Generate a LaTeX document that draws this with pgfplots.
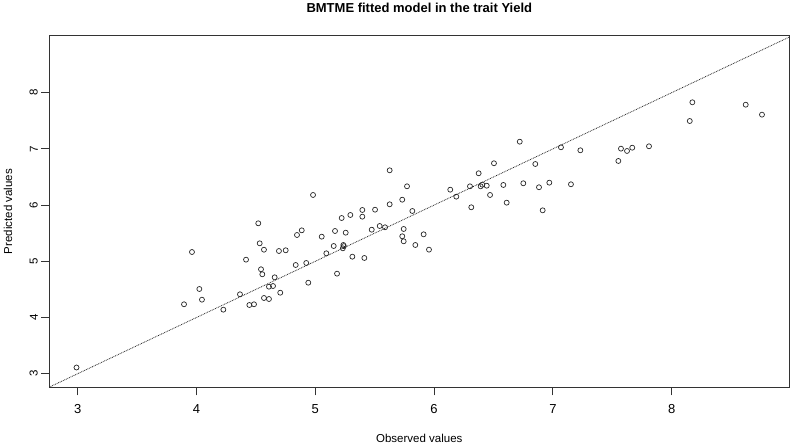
\documentclass[border=0pt]{standalone}
\usepackage{fontspec}
\setmainfont{Liberation Sans}
\usepackage{pgfplots}
\pgfplotsset{compat=1.18}
\begin{document}
\begin{tikzpicture}
\useasboundingbox (0,0) rectangle (792pt,446pt);
\begin{axis}[
  at={(49.3pt,58.7pt)}, anchor=south west,
  scale only axis, width=740pt, height=351.6pt,
  xmin=2.761, xmax=8.99, ymin=2.758, ymax=9.014,
  xtick={3,4,5,6,7,8}, ytick={3,4,5,6,7,8},
  xtick pos=bottom, ytick pos=left,
  tick align=outside, major tick length=8pt,
  axis line style={black!80, line width=0.8pt},
  every tick/.style={black!80, line width=0.8pt},
  /pgf/number format/assume math mode=true,
  xticklabel style={font=\fontsize{13}{13}\selectfont, yshift=-5.5pt},
  yticklabel style={font=\fontsize{11.5}{11.5}\selectfont, rotate=90, anchor=south},
  clip=true,
  title={\textbf{BMTME fitted model in the trait Yield}},
  title style={font=\fontsize{13}{13}\selectfont, at={(axis description cs:0.5,1)}, anchor=center, yshift=21.7pt},
  xlabel={Observed values},
  ylabel={Predicted values},
  xlabel style={font=\fontsize{11.5}{11.5}\selectfont, at={(axis description cs:0.5,-0.1442)}, anchor=center},
  ylabel style={font=\fontsize{11.5}{11.5}\selectfont, at={(axis description cs:-0.0558,0.5)}, anchor=center},
]
\addplot[black!85, dash pattern=on 0.8pt off 0.9pt, line width=0.8pt] coordinates {(2.5,2.5) (9.5,9.5)};
\addplot[only marks, mark=o, mark size=2.5pt, mark options={black!85, line width=0.7pt}] coordinates {
(2.99,3.11) (3.895,4.235) (3.962,5.165) (4.024,4.507) (4.046,4.317)
(4.226,4.139) (4.366,4.413) (4.417,5.029) (4.445,4.222) (4.484,4.235)
(4.52,5.676) (4.532,5.32) (4.568,5.206) (4.543,4.858) (4.554,4.769)
(4.568,4.347) (4.61,4.329) (4.61,4.548) (4.644,4.56) (4.658,4.715)
(4.705,4.441) (4.694,5.183) (4.751,5.196) (4.835,4.934) (4.846,5.468)
(4.886,5.551) (4.924,4.97) (4.941,4.619) (4.981,6.18) (5.054,5.438)
(5.093,5.142) (5.155,5.272) (5.166,5.539) (5.183,4.78) (5.222,5.77)
(5.236,5.29) (5.24,5.27) (5.232,5.231) (5.256,5.509) (5.295,5.824)
(5.312,5.082) (5.396,5.913) (5.396,5.794) (5.413,5.059) (5.475,5.562)
(5.503,5.918) (5.542,5.628) (5.587,5.605) (5.626,6.619) (5.626,6.014)
(5.732,6.096) (5.732,5.445) (5.744,5.575) (5.744,5.356) (5.772,6.334)
(5.817,5.895) (5.842,5.29) (5.912,5.48) (5.957,5.207) (6.136,6.274)
(6.187,6.15) (6.302,6.334) (6.313,5.961) (6.375,6.566) (6.392,6.334)
(6.406,6.363) (6.443,6.345) (6.471,6.18) (6.504,6.744) (6.583,6.358)
(6.611,6.043) (6.721,7.128) (6.751,6.388) (6.852,6.731) (6.883,6.317)
(6.914,5.907) (6.97,6.399) (7.068,7.028) (7.152,6.37) (7.231,6.975)
(7.551,6.785) (7.573,7.004) (7.624,6.963) (7.668,7.021) (7.809,7.046)
(8.152,7.496) (8.174,7.829) (8.623,7.786) (8.76,7.609)
};
\end{axis}
\end{tikzpicture}
\end{document}
